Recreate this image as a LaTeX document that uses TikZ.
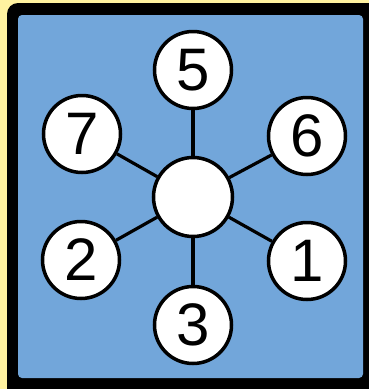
\documentclass[tikz,border=0pt]{standalone}
\usepackage{fontspec}
\setmainfont{Liberation Sans}
\definecolor{bgyellow}{RGB}{255,242,160}
\definecolor{panelblue}{RGB}{114,166,218}
\tikzset{
  numcircle/.style={circle, draw=black, fill=white, line width=3.5pt, minimum size=77pt, inner sep=0pt, font=\fontsize{60}{60}\selectfont},
  hubcircle/.style={circle, draw=black, fill=white, line width=3.5pt, minimum size=79pt, inner sep=0pt},
  spoke/.style={draw=black, line width=3.2pt}
}
\begin{document}
\begin{tikzpicture}[x=1pt,y=-1pt]
\useasboundingbox (0,0) rectangle (369,389);
\fill[bgyellow] (0,0) rectangle (369,389);
\fill[black, rounded corners=11pt] (7,3) rectangle (380,400);
\fill[panelblue, rounded corners=4pt] (18,15) rectangle (363,378);
\node[hubcircle] (c) at (193,197) {};
\node[numcircle] (n5) at (193,70) {5};
\node[numcircle] (n7) at (82,134) {7};
\node[numcircle] (n6) at (307,136) {6};
\node[numcircle] (n2) at (81,260) {2};
\node[numcircle] (n1) at (307,261) {1};
\node[numcircle] (n3) at (193,325) {3};
\foreach \n in {n5,n7,n6,n2,n1,n3} \draw[spoke] (c) -- (\n);
\end{tikzpicture}
\end{document}
